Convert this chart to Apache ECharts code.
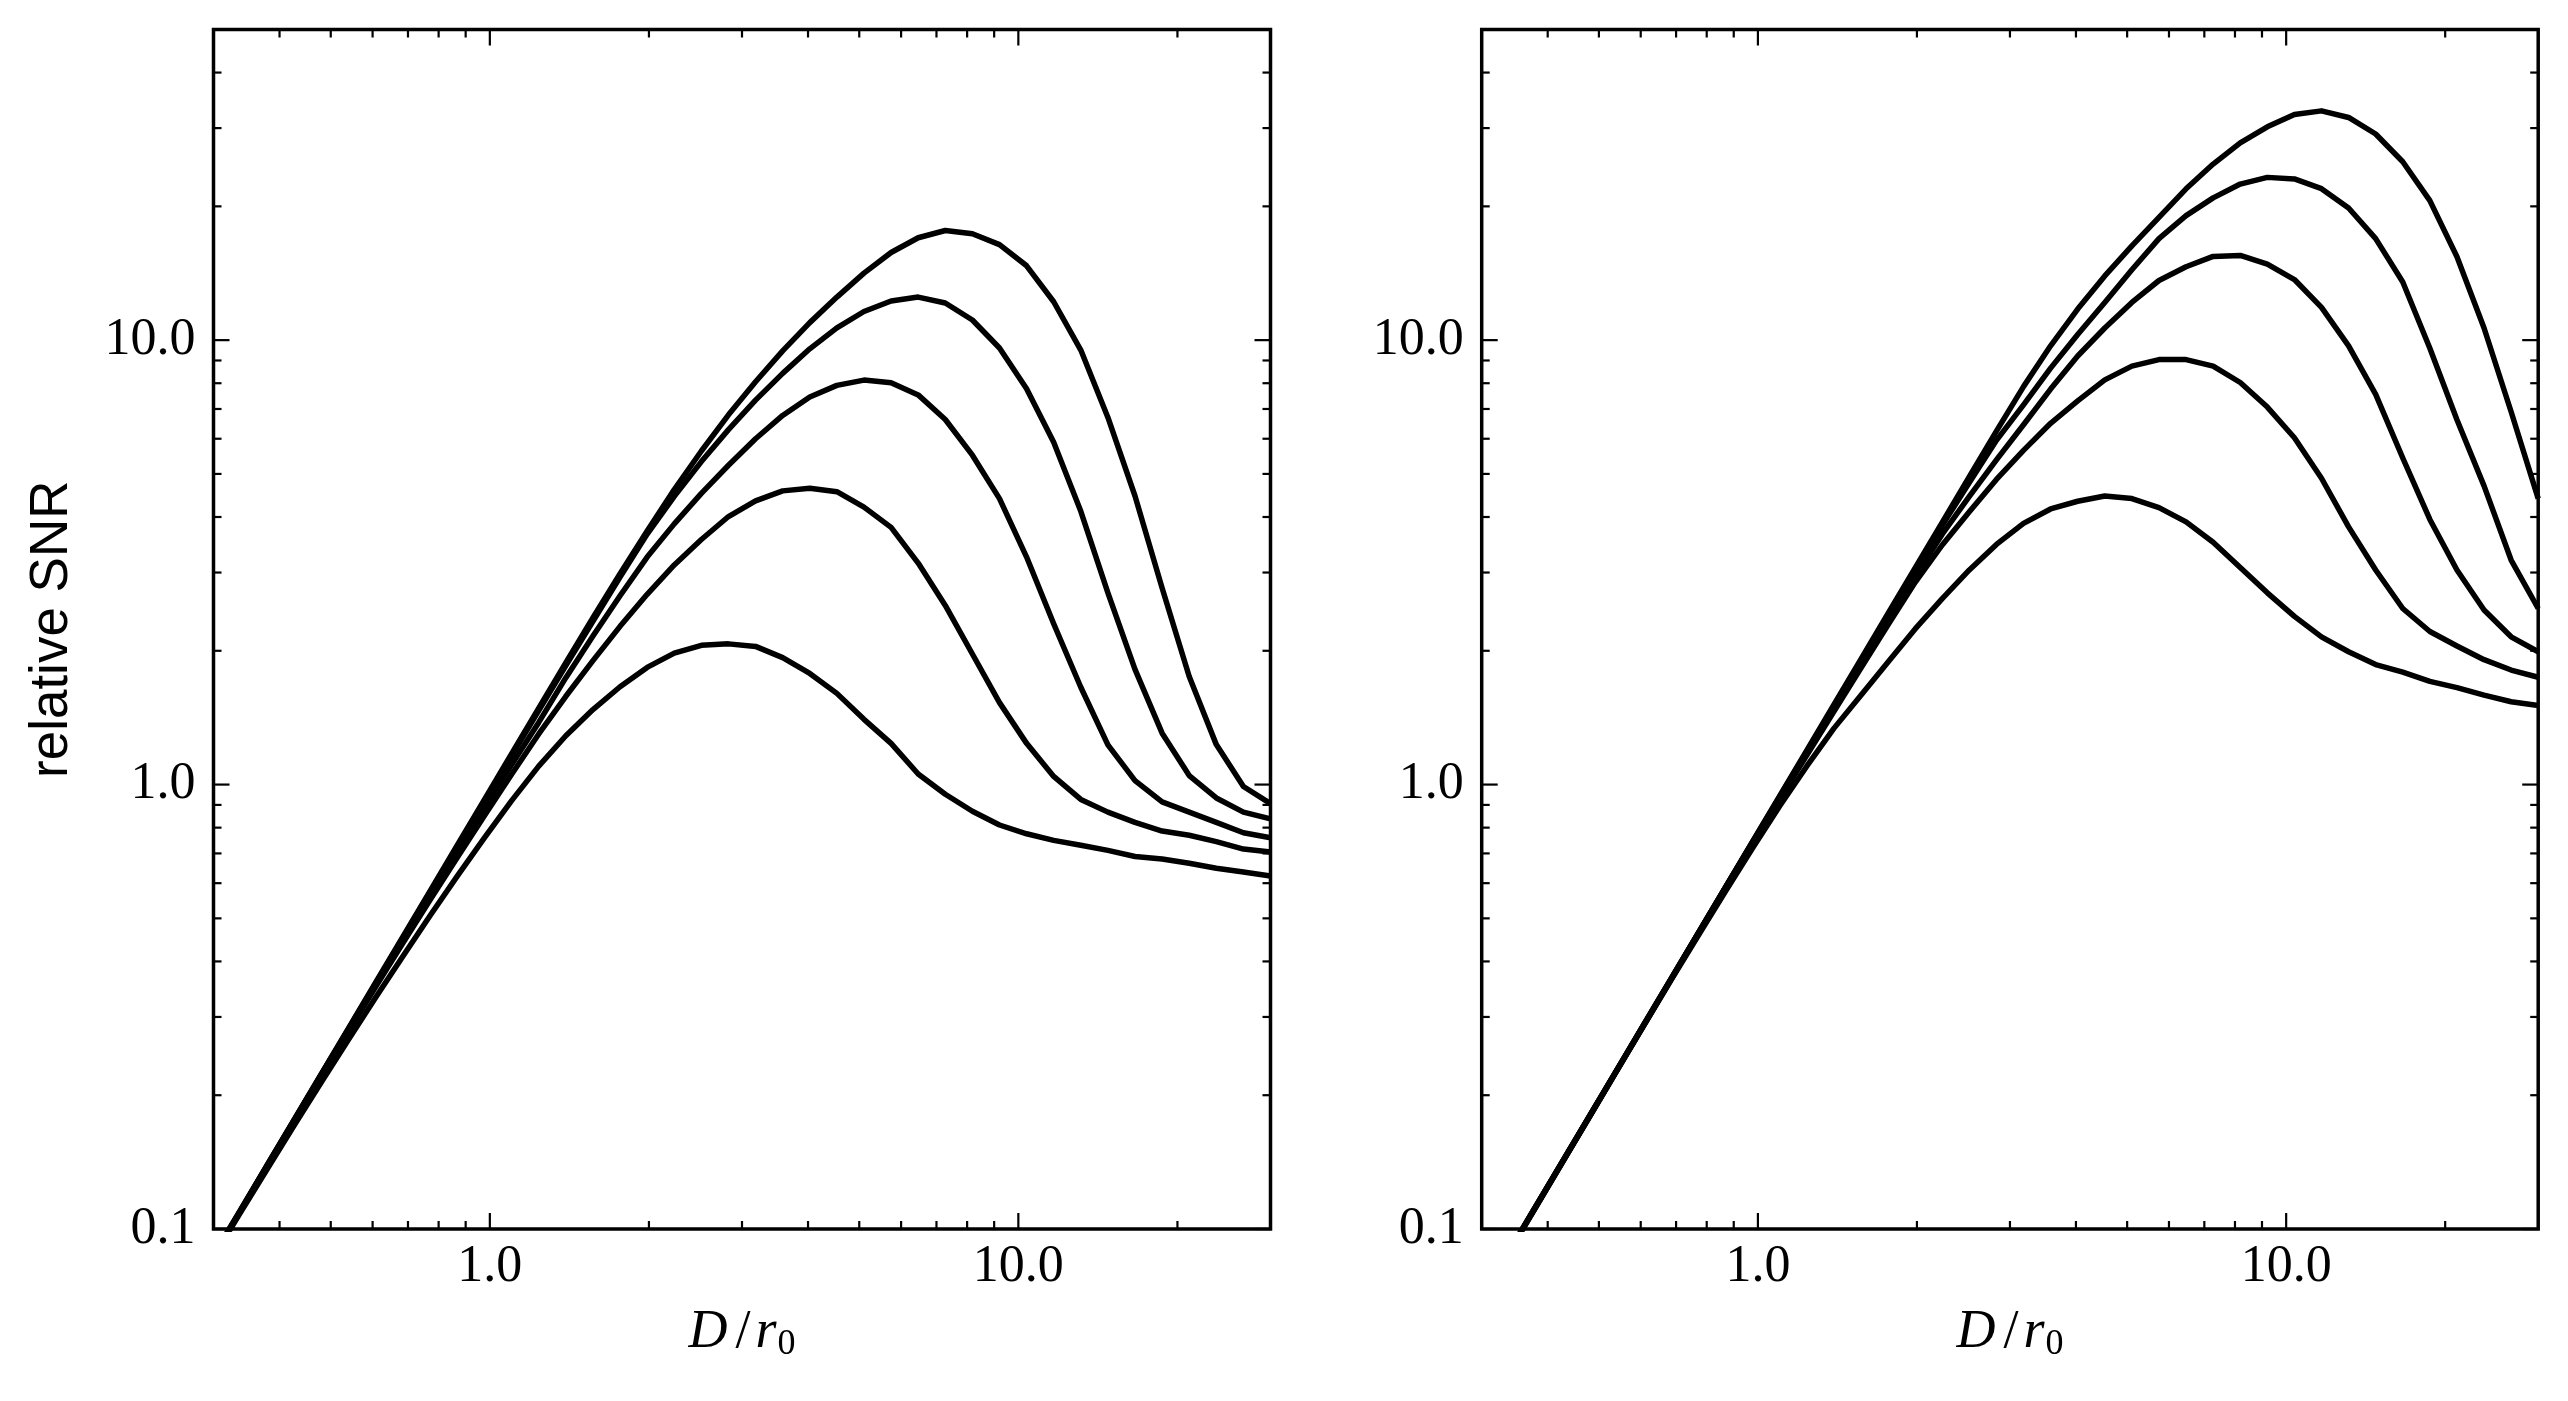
<!DOCTYPE html>
<html>
<head>
<meta charset="utf-8">
<script src="https://cdn.jsdelivr.net/npm/echarts@6/dist/echarts.min.js"></script>
<style>
html,body{margin:0;padding:0;background:#fff;}
#chart{width:2568px;height:1401px;}
</style>
</head>
<body>
<div id="chart"></div>
<script>
// D/r0 sample positions (shared by every curve)
const X = [0.3, 0.3376, 0.3799, 0.4276, 0.4811, 0.5414, 0.6093, 0.6857, 0.7716, 0.8683,
           0.9772, 1.0997, 1.2374, 1.3926, 1.5671, 1.7635, 1.9846, 2.2333, 2.5133, 2.8284,
           3.1826, 3.5816, 4.0305, 4.5356, 5.1042, 5.744, 6.4639, 7.2741, 8.1858, 9.2118,
           10.366, 11.665, 13.128, 14.773, 16.624, 18.708, 21.053, 23.692, 26.661, 30.0];

// Left panel curves (relative SNR)
const L1 = [0.0873, 0.1106, 0.1400, 0.1774, 0.2245, 0.2843, 0.3601, 0.4561, 0.5775, 0.7313,
            0.9263, 1.173, 1.485, 1.881, 2.375, 2.98, 3.72, 4.61, 5.63, 6.79,
            8.06, 9.46, 10.95, 12.5, 14.15, 15.75, 17.0, 17.65, 17.35, 16.4,
            14.7, 12.2, 9.5, 6.7, 4.46, 2.77, 1.75, 1.23, 0.99, 0.906];
const L2 = [0.0870, 0.1100, 0.1394, 0.1766, 0.2235, 0.2830, 0.3583, 0.4536, 0.5740, 0.7262,
            0.919, 1.162, 1.468, 1.852, 2.33, 2.93, 3.66, 4.45, 5.33, 6.29,
            7.33, 8.42, 9.56, 10.66, 11.6, 12.25, 12.5, 12.12, 11.10, 9.60,
            7.77, 5.89, 4.12, 2.70, 1.816, 1.305, 1.048, 0.933, 0.867, 0.837];
const L3 = [0.0872, 0.110, 0.140, 0.177, 0.224, 0.282, 0.356, 0.448, 0.563, 0.707,
            0.888, 1.11, 1.38, 1.74, 2.16, 2.66, 3.25, 3.86, 4.52, 5.23,
            6.00, 6.77, 7.45, 7.91, 8.13, 8.02, 7.53, 6.63, 5.51, 4.40,
            3.25, 2.30, 1.656, 1.228, 1.021, 0.914, 0.867, 0.822, 0.779, 0.759];
const L4 = [0.0868, 0.110, 0.139, 0.176, 0.222, 0.280, 0.352, 0.441, 0.551, 0.686,
            0.852, 1.055, 1.30, 1.58, 1.90, 2.27, 2.68, 3.12, 3.56, 4.01,
            4.35, 4.58, 4.64, 4.56, 4.21, 3.79, 3.15, 2.53, 1.967, 1.529,
            1.238, 1.043, 0.926, 0.867, 0.822, 0.786, 0.769, 0.744, 0.716, 0.705];
const L5 = [0.0865, 0.109, 0.137, 0.172, 0.215, 0.268, 0.333, 0.412, 0.508, 0.623,
            0.76, 0.92, 1.10, 1.288, 1.475, 1.66, 1.835, 1.976, 2.057, 2.073,
            2.046, 1.930, 1.778, 1.604, 1.402, 1.238, 1.056, 0.951, 0.871, 0.811,
            0.775, 0.749, 0.730, 0.711, 0.689, 0.680, 0.665, 0.648, 0.636, 0.623];

// Right panel curves (relative SNR)
const R1 = [0.0702, 0.0889, 0.1126, 0.1426, 0.1805, 0.2286, 0.2896, 0.3667, 0.4644, 0.5881,
            0.7448, 0.9433, 1.194, 1.513, 1.915, 2.426, 3.072, 3.890, 4.927, 6.24,
            7.86, 9.71, 11.75, 13.95, 16.3, 18.9, 21.9, 24.9, 27.8, 30.2,
            32.2, 32.8, 31.7, 29.1, 25.2, 20.6, 15.4, 10.65, 6.9, 4.4];
const R2 = [0.0701, 0.0888, 0.1125, 0.1425, 0.1803, 0.2284, 0.2893, 0.3663, 0.4639, 0.5875,
            0.7433, 0.9395, 1.187, 1.498, 1.892, 2.39, 3.01, 3.83, 4.78, 5.95,
            7.15, 8.65, 10.3, 12.15, 14.4, 16.92, 19.06, 20.9, 22.45, 23.24,
            23.05, 21.92, 19.83, 16.92, 13.52, 9.59, 6.62, 4.70, 3.20, 2.49];
const R3 = [0.0701, 0.0887, 0.1124, 0.1423, 0.1801, 0.2281, 0.2890, 0.3660, 0.4635, 0.5869,
            0.741, 0.934, 1.176, 1.48, 1.858, 2.341, 2.94, 3.66, 4.45, 5.38,
            6.45, 7.76, 9.21, 10.65, 12.16, 13.62, 14.63, 15.43, 15.51, 14.83,
            13.69, 11.85, 9.71, 7.55, 5.43, 3.95, 3.04, 2.47, 2.15, 1.99];
const R4 = [0.0699, 0.0885, 0.1120, 0.1419, 0.1796, 0.2275, 0.2882, 0.3649, 0.4621, 0.5852,
            0.7374, 0.929, 1.164, 1.46, 1.829, 2.288, 2.851, 3.46, 4.11, 4.86,
            5.65, 6.50, 7.30, 8.14, 8.74, 9.04, 9.04, 8.74, 8.03, 7.07,
            6.03, 4.89, 3.80, 3.04, 2.49, 2.21, 2.05, 1.91, 1.81, 1.744];
const R5 = [0.0700, 0.0886, 0.1120, 0.1420, 0.1800, 0.2280, 0.2880, 0.3640, 0.4580, 0.5750,
            0.72, 0.895, 1.10, 1.338, 1.589, 1.888, 2.24, 2.62, 3.04, 3.47,
            3.87, 4.17, 4.34, 4.46, 4.40, 4.20, 3.90, 3.51, 3.08, 2.70,
            2.39, 2.15, 1.99, 1.862, 1.79, 1.707, 1.653, 1.589, 1.536, 1.507];

// Axis ranges and tick values
const X_MIN = 0.3, X_MAX = 30;
const Y_MIN = 0.1, Y_MAX = 50;
const X_MAJOR = [1, 10];
const X_MINOR = [0.4, 0.5, 0.6, 0.7, 0.8, 0.9, 2, 3, 4, 5, 6, 7, 8, 9, 20];
const Y_MAJOR = [0.1, 1, 10];
const Y_MINOR = [0.2, 0.3, 0.4, 0.5, 0.6, 0.7, 0.8, 0.9, 2, 3, 4, 5, 6, 7, 8, 9, 20, 30, 40];

const SERIF = 'Liberation Serif';
const SANS = 'Liberation Sans';

function fmt(v) {
  const l = Math.log10(v);
  if (Math.abs(l - Math.round(l)) > 1e-6) return '';
  return Math.pow(10, Math.round(l)).toFixed(1);
}

function lineSeries(g, ys) {
  return {
    type: 'line', xAxisIndex: g, yAxisIndex: g,
    data: X.map((x, i) => [x, ys[i]]),
    showSymbol: false, symbol: 'none', silent: true, clip: true, z: 3,
    lineStyle: { color: '#000', width: 5.5, join: 'round', cap: 'butt' }
  };
}

function tickSeries(g, values, dir, len) {
  return {
    type: 'custom', xAxisIndex: g, yAxisIndex: g, silent: true, z: 6, clip: false,
    data: values.map(v => dir === 'x' ? [v, 1] : [1, v]),
    encode: { x: 0, y: 1 },
    renderItem: function (params, api) {
      const st = { stroke: '#000', lineWidth: 2.2 };
      if (dir === 'x') {
        const v = api.value(0);
        const b = api.coord([v, Y_MIN]);
        const t = api.coord([v, Y_MAX]);
        return { type: 'group', children: [
          { type: 'line', shape: { x1: b[0], y1: b[1], x2: b[0], y2: b[1] - len }, style: st },
          { type: 'line', shape: { x1: t[0], y1: t[1], x2: t[0], y2: t[1] + len }, style: st }
        ]};
      } else {
        const v = api.value(1);
        const l = api.coord([X_MIN, v]);
        const r = api.coord([X_MAX, v]);
        return { type: 'group', children: [
          { type: 'line', shape: { x1: l[0], y1: l[1], x2: l[0] + len, y2: l[1] }, style: st },
          { type: 'line', shape: { x1: r[0], y1: r[1], x2: r[0] - len, y2: r[1] }, style: st }
        ]};
      }
    }
  };
}

function xAxisFor(g) {
  return {
    gridIndex: g, type: 'log', logBase: 10, min: X_MIN, max: X_MAX,
    axisLine: { show: false }, axisTick: { show: false }, splitLine: { show: false },
    minorTick: { show: false }, minorSplitLine: { show: false },
    axisLabel: { formatter: fmt, fontFamily: SERIF, fontSize: 52, color: '#000', margin: 12 },
    name: '{i|D}{sl|/}{i|r}{s|0}', nameLocation: 'middle', nameGap: 74,
    nameTextStyle: {
      fontFamily: SERIF, fontSize: 54, color: '#000', lineHeight: 60,
      rich: {
        i: { fontFamily: SERIF, fontStyle: 'italic', fontSize: 54, lineHeight: 60, color: '#000' },
        sl: { fontFamily: SERIF, fontSize: 54, lineHeight: 60, color: '#000', padding: [0, 5, 0, 8] },
        s: { fontFamily: SERIF, fontSize: 36, lineHeight: 31, verticalAlign: 'bottom', color: '#000', padding: [0, 0, 0, 1] }
      }
    }
  };
}

function yAxisFor(g, withName) {
  const a = {
    gridIndex: g, type: 'log', logBase: 10, min: Y_MIN, max: Y_MAX,
    axisLine: { show: false }, axisTick: { show: false }, splitLine: { show: false },
    minorTick: { show: false }, minorSplitLine: { show: false },
    axisLabel: { formatter: fmt, fontFamily: SERIF, fontSize: 52, color: '#000', margin: 18 }
  };
  if (withName) {
    a.name = 'relative SNR';
    a.nameLocation = 'middle';
    a.nameGap = 135;
    a.nameTextStyle = { fontFamily: SANS, fontSize: 53, color: '#000' };
  }
  return a;
}

const chart = echarts.init(document.getElementById('chart'), null, { renderer: 'canvas' });
const series = [];
[L1, L2, L3, L4, L5].forEach(ys => series.push(lineSeries(0, ys)));
[R1, R2, R3, R4, R5].forEach(ys => series.push(lineSeries(1, ys)));
[0, 1].forEach(g => {
  series.push(tickSeries(g, X_MAJOR, 'x', 16));
  series.push(tickSeries(g, X_MINOR, 'x', 8));
  series.push(tickSeries(g, Y_MAJOR, 'y', 16));
  series.push(tickSeries(g, Y_MINOR, 'y', 8));
});

chart.setOption({
  animation: false,
  backgroundColor: '#fff',
  grid: [
    { left: 213.5, top: 29.5, width: 1057, height: 1199.5, show: true, borderColor: '#000', borderWidth: 3.5, backgroundColor: 'transparent' },
    { left: 1481.7, top: 29.5, width: 1056.5, height: 1199.5, show: true, borderColor: '#000', borderWidth: 3.5, backgroundColor: 'transparent' }
  ],
  xAxis: [xAxisFor(0), xAxisFor(1)],
  yAxis: [yAxisFor(0, true), yAxisFor(1, false)],
  series: series
});
</script>
</body>
</html>
